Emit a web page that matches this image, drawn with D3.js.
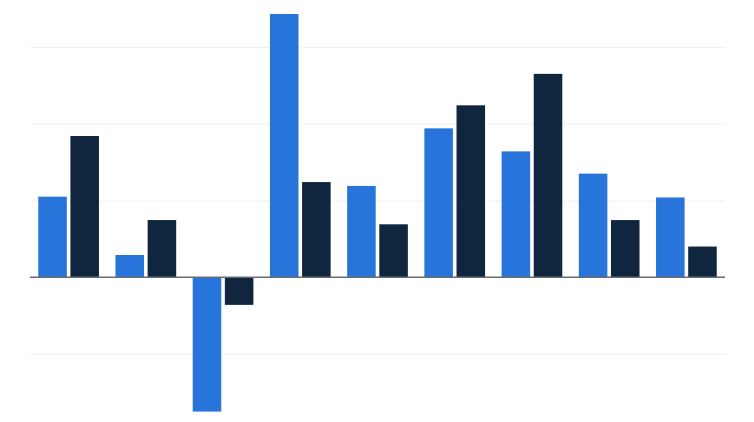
<!DOCTYPE html>
<html>
<head>
<meta charset="utf-8">
<script src="https://cdn.jsdelivr.net/npm/d3@7"></script>
<style>
  body { margin: 0; background: #fff; }
</style>
</head>
<body>
<script>
// Data (gridline step = 2 units)
var categories = ["1", "2", "3", "4", "5", "6", "7", "8", "9"];
var seriesNames = ["blue", "dark"];
var blueValues = [2.1, 0.58, -3.5, 6.86, 2.38, 3.88, 3.28, 2.7, 2.08];
var darkValues = [3.68, 1.49, -0.72, 2.48, 1.38, 4.48, 5.3, 1.49, 0.8];
var yTicks = [-2, 0, 2, 4, 6];

var colors = {blue: "#2775db", dark: "#10263e"};

var width = 754, height = 422;
var margin = {left: 30, right: 29};

var dataset = categories.map(function(c, i) {
  return {cat: c, values: [
    {key: "blue", value: blueValues[i]},
    {key: "dark", value: darkValues[i]}
  ]};
});

var svg = d3.select("body").append("svg")
    .attr("width", width)
    .attr("height", height);

var x0 = d3.scaleBand()
    .domain(categories)
    .range([margin.left, width - margin.right])
    .paddingInner(0.214)
    .paddingOuter(0.107);

var x1 = d3.scaleBand()
    .domain(seriesNames)
    .range([0, x0.bandwidth()])
    .paddingInner(0.112);

var yScale = d3.scaleLinear()
    .domain([-2, 6])
    .range([354, 47]);

// gridlines
svg.append("g")
    .attr("class", "grid")
  .selectAll("line")
    .data(yTicks.filter(function(d) { return d !== 0; }))
  .enter().append("line")
    .attr("x1", margin.left)
    .attr("x2", width - margin.right)
    .attr("y1", function(d) { return yScale(d) + 0.5; })
    .attr("y2", function(d) { return yScale(d) + 0.5; })
    .attr("stroke", "#e4e4e4")
    .attr("stroke-width", 1)
    .attr("stroke-dasharray", "1,1");

var group = svg.append("g")
  .selectAll("g")
    .data(dataset)
  .enter().append("g")
    .attr("transform", function(d) { return "translate(" + x0(d.cat) + ",0)"; });

group.selectAll("rect")
    .data(function(d) { return d.values; })
  .enter().append("rect")
    .attr("x", function(d) { return x1(d.key); })
    .attr("width", x1.bandwidth())
    .attr("y", function(d) { return yScale(Math.max(0, d.value)); })
    .attr("height", function(d) { return Math.abs(yScale(d.value) - yScale(0)); })
    .attr("fill", function(d) { return colors[d.key]; });

// zero line
svg.append("line")
    .attr("x1", margin.left)
    .attr("x2", width - margin.right)
    .attr("y1", yScale(0))
    .attr("y2", yScale(0))
    .attr("stroke", "#666c75")
    .attr("stroke-width", 1.5);
</script>
</body>
</html>
